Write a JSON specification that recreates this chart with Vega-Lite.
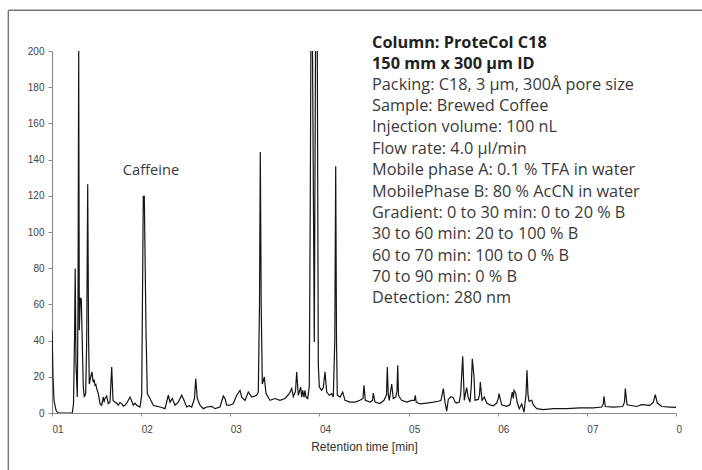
{
  "$schema": "https://vega.github.io/schema/vega-lite/v6.json",
  "width": 624,
  "height": 362,
  "autosize": "none",
  "padding": {"left": 52, "top": 51, "right": 26, "bottom": 57},
  "background": "white",
  "config": {
    "view": {"stroke": null},
    "font": "Liberation Sans",
    "axis": {
      "grid": false,
      "labelOverlap": false,
      "labelFlush": false,
      "domainColor": "#8a8a8a", "domainWidth": 1.2,
      "tickColor": "#8a8a8a",
      "labelFont": "Liberation Sans", "labelFontSize": 10, "labelColor": "#444444",
      "titleFont": "Liberation Sans", "titleFontWeight": "normal", "titleColor": "#333333"
    },
    "axisX": {"tickSize": 3, "labelPadding": 8, "labelAlign": "left", "titleFontSize": 12, "titlePadding": 7},
    "axisY": {"tickSize": 4, "labelPadding": 4}
  },
  "datasets": {
    "trace": [
      {"time": 10.0, "signal": 45.5}, {"time": 10.112, "signal": 20}, {"time": 10.224, "signal": 7}, {"time": 10.449, "signal": 1.5}, {"time": 10.673, "signal": 0},
      {"time": 12.277, "signal": 0}, {"time": 12.412, "signal": 5}, {"time": 12.524, "signal": 40}, {"time": 12.603, "signal": 79.8}, {"time": 12.692, "signal": 27},
      {"time": 12.838, "signal": 8.9}, {"time": 12.917, "signal": 60}, {"time": 12.995, "signal": 200}, {"time": 13.063, "signal": 45.7}, {"time": 13.175, "signal": 63.4},
      {"time": 13.287, "signal": 63}, {"time": 13.365, "signal": 45.7}, {"time": 13.511, "signal": 14.4}, {"time": 13.623, "signal": 8.8}, {"time": 13.78, "signal": 10.9},
      {"time": 13.893, "signal": 40}, {"time": 14.005, "signal": 126.4}, {"time": 14.106, "signal": 40}, {"time": 14.184, "signal": 16}, {"time": 14.341, "signal": 20},
      {"time": 14.487, "signal": 22.7}, {"time": 14.56, "signal": 19}, {"time": 14.633, "signal": 17}, {"time": 14.72, "signal": 18.5}, {"time": 14.824, "signal": 15.3}, {"time": 14.92, "signal": 15.8}, {"time": 15.014, "signal": 13.5}, {"time": 15.194, "signal": 10.7},
      {"time": 15.385, "signal": 5.2}, {"time": 15.575, "signal": 4.3}, {"time": 15.755, "signal": 8.8}, {"time": 15.85, "signal": 6.5}, {"time": 15.946, "signal": 8}, {"time": 16.136, "signal": 9.4},
      {"time": 16.316, "signal": 5.2}, {"time": 16.506, "signal": 6}, {"time": 16.697, "signal": 25.4}, {"time": 16.843, "signal": 7}, {"time": 17.067, "signal": 6},
      {"time": 17.25, "signal": 5.5}, {"time": 17.438, "signal": 4.3}, {"time": 17.62, "signal": 5.8}, {"time": 17.819, "signal": 5.2}, {"time": 18.0, "signal": 3.8}, {"time": 18.189, "signal": 4.3}, {"time": 18.38, "signal": 5.5}, {"time": 18.559, "signal": 7}, {"time": 18.75, "signal": 8.8},
      {"time": 18.941, "signal": 6.6}, {"time": 19.12, "signal": 4.3}, {"time": 19.3, "signal": 5.4}, {"time": 19.502, "signal": 4.3}, {"time": 19.872, "signal": 3.3}, {"time": 20.063, "signal": 10},
      {"time": 20.242, "signal": 119.7}, {"time": 20.354, "signal": 119.7}, {"time": 20.545, "signal": 45.7}, {"time": 20.691, "signal": 10.7}, {"time": 20.994, "signal": 8},
      {"time": 21.364, "signal": 4.3}, {"time": 21.7, "signal": 3.8}, {"time": 22.115, "signal": 3.3}, {"time": 22.676, "signal": 2.4}, {"time": 23.047, "signal": 9.8}, {"time": 23.237, "signal": 6},
      {"time": 23.495, "signal": 8}, {"time": 23.798, "signal": 4.3}, {"time": 24.168, "signal": 6}, {"time": 24.55, "signal": 9.8}, {"time": 24.808, "signal": 7},
      {"time": 25.111, "signal": 3.3}, {"time": 25.4, "signal": 4}, {"time": 25.672, "signal": 3.3}, {"time": 25.986, "signal": 8}, {"time": 26.12, "signal": 19}, {"time": 26.3, "signal": 8},
      {"time": 26.603, "signal": 4.3}, {"time": 26.973, "signal": 2.4}, {"time": 27.354, "signal": 3.3}, {"time": 27.915, "signal": 3.7}, {"time": 28.285, "signal": 2.4},
      {"time": 28.846, "signal": 3.3}, {"time": 29.216, "signal": 9.4}, {"time": 29.407, "signal": 8}, {"time": 29.598, "signal": 4.3}, {"time": 29.968, "signal": 4.3},
      {"time": 30.338, "signal": 5.2}, {"time": 30.72, "signal": 9.8}, {"time": 31.09, "signal": 12.5}, {"time": 31.281, "signal": 8.8}, {"time": 31.651, "signal": 7},
      {"time": 32.021, "signal": 11.6}, {"time": 32.402, "signal": 8.8}, {"time": 32.963, "signal": 9.8}, {"time": 33.143, "signal": 11.6}, {"time": 33.277, "signal": 60},
      {"time": 33.367, "signal": 144.2}, {"time": 33.468, "signal": 60}, {"time": 33.592, "signal": 16}, {"time": 33.816, "signal": 19.9}, {"time": 34.007, "signal": 10.7},
      {"time": 34.455, "signal": 7}, {"time": 35.016, "signal": 8}, {"time": 35.577, "signal": 7}, {"time": 36.138, "signal": 8}, {"time": 36.62, "signal": 10.7},
      {"time": 36.89, "signal": 13.6}, {"time": 37.069, "signal": 9}, {"time": 37.316, "signal": 12}, {"time": 37.45, "signal": 22.7}, {"time": 37.63, "signal": 9.8},
      {"time": 37.899, "signal": 14.4}, {"time": 38.011, "signal": 8.8}, {"time": 38.124, "signal": 12.5}, {"time": 38.269, "signal": 8.8}, {"time": 38.382, "signal": 12.5},
      {"time": 38.494, "signal": 8.8}, {"time": 38.684, "signal": 8}, {"time": 38.864, "signal": 15}, {"time": 38.976, "signal": 120}, {"time": 39.088, "signal": 260},
      {"time": 39.223, "signal": 200}, {"time": 39.425, "signal": 39.2}, {"time": 39.559, "signal": 200}, {"time": 39.672, "signal": 260}, {"time": 39.761, "signal": 200},
      {"time": 39.874, "signal": 27}, {"time": 39.986, "signal": 14.4}, {"time": 40.255, "signal": 12.5}, {"time": 40.435, "signal": 14}, {"time": 40.625, "signal": 22.7},
      {"time": 40.816, "signal": 11.6}, {"time": 41.108, "signal": 9.8}, {"time": 41.377, "signal": 10.7}, {"time": 41.556, "signal": 8.8}, {"time": 41.724, "signal": 40},
      {"time": 41.825, "signal": 136.3}, {"time": 41.915, "signal": 40}, {"time": 42.005, "signal": 9.8}, {"time": 42.308, "signal": 8.8}, {"time": 42.611, "signal": 11.6},
      {"time": 42.869, "signal": 7}, {"time": 43.43, "signal": 6}, {"time": 43.991, "signal": 6}, {"time": 44.551, "signal": 7}, {"time": 44.888, "signal": 8},
      {"time": 45.0, "signal": 15.3}, {"time": 45.146, "signal": 7}, {"time": 45.673, "signal": 6}, {"time": 45.954, "signal": 7}, {"time": 46.043, "signal": 11},
      {"time": 46.234, "signal": 6}, {"time": 46.795, "signal": 5.2}, {"time": 47.244, "signal": 7}, {"time": 47.524, "signal": 10}, {"time": 47.614, "signal": 25.4},
      {"time": 47.726, "signal": 10}, {"time": 47.838, "signal": 7}, {"time": 48.107, "signal": 16}, {"time": 48.287, "signal": 8}, {"time": 48.556, "signal": 8.8},
      {"time": 48.702, "signal": 12}, {"time": 48.781, "signal": 26.4}, {"time": 48.87, "signal": 10}, {"time": 48.96, "signal": 8.8}, {"time": 49.229, "signal": 7},
      {"time": 49.79, "signal": 6}, {"time": 50.351, "signal": 7}, {"time": 50.665, "signal": 7}, {"time": 50.755, "signal": 9.8}, {"time": 50.856, "signal": 6},
      {"time": 51.282, "signal": 5}, {"time": 52.034, "signal": 5.5}, {"time": 52.774, "signal": 6}, {"time": 53.335, "signal": 6.5}, {"time": 53.638, "signal": 7},
      {"time": 53.896, "signal": 13.5}, {"time": 54.087, "signal": 6}, {"time": 54.277, "signal": 1}, {"time": 54.457, "signal": 7.5}, {"time": 54.76, "signal": 9},
      {"time": 55.018, "signal": 8.5}, {"time": 55.209, "signal": 6}, {"time": 55.399, "signal": 5.5}, {"time": 55.691, "signal": 6}, {"time": 55.848, "signal": 10.7},
      {"time": 56.072, "signal": 31.3}, {"time": 56.252, "signal": 7}, {"time": 56.42, "signal": 12}, {"time": 56.521, "signal": 14}, {"time": 56.667, "signal": 9},
      {"time": 56.891, "signal": 6}, {"time": 57.037, "signal": 15}, {"time": 57.149, "signal": 30}, {"time": 57.34, "signal": 20}, {"time": 57.452, "signal": 7},
      {"time": 57.822, "signal": 7.5}, {"time": 57.957, "signal": 10}, {"time": 58.047, "signal": 17.1}, {"time": 58.238, "signal": 7}, {"time": 58.496, "signal": 8.8},
      {"time": 58.765, "signal": 5.5}, {"time": 59.134, "signal": 4.5}, {"time": 59.505, "signal": 4}, {"time": 59.886, "signal": 5.5}, {"time": 60.066, "signal": 8},
      {"time": 60.144, "signal": 10.7}, {"time": 60.447, "signal": 4.5}, {"time": 61.008, "signal": 3.7}, {"time": 61.378, "signal": 4.5}, {"time": 61.636, "signal": 11.6},
      {"time": 61.748, "signal": 8}, {"time": 61.827, "signal": 12.5}, {"time": 62.017, "signal": 11}, {"time": 62.197, "signal": 5.5}, {"time": 62.421, "signal": 2.4},
      {"time": 62.691, "signal": 5}, {"time": 62.949, "signal": 0.5}, {"time": 63.173, "signal": 10}, {"time": 63.286, "signal": 23.6}, {"time": 63.398, "signal": 10},
      {"time": 63.51, "signal": 6.5}, {"time": 63.813, "signal": 7}, {"time": 63.992, "signal": 4.5}, {"time": 64.374, "signal": 2.4}, {"time": 65.115, "signal": 1.9},
      {"time": 66.236, "signal": 2.4}, {"time": 67.739, "signal": 2.4}, {"time": 69.231, "signal": 2.8}, {"time": 70.723, "signal": 2.8}, {"time": 71.665, "signal": 3.3},
      {"time": 71.845, "signal": 5}, {"time": 71.923, "signal": 9.2}, {"time": 72.069, "signal": 3.6}, {"time": 72.967, "signal": 3.3}, {"time": 74.021, "signal": 3.6},
      {"time": 74.223, "signal": 6}, {"time": 74.313, "signal": 13.5}, {"time": 74.504, "signal": 4.5}, {"time": 75.592, "signal": 3.6}, {"time": 76.153, "signal": 4.6},
      {"time": 77.084, "signal": 4.2}, {"time": 77.454, "signal": 6}, {"time": 77.678, "signal": 10.2}, {"time": 77.903, "signal": 5.5}, {"time": 78.396, "signal": 3.6},
      {"time": 79.327, "signal": 3.3}, {"time": 80.0, "signal": 3.1}
    ]
  },
  "encoding": {
    "x": {
      "field": "time", "type": "quantitative",
      "scale": {"domain": [10, 80], "nice": false, "zero": false},
      "axis": {
        "values": [10, 20, 30, 40, 50, 60, 70, 80],
        "labelExpr": "datum.value == 80 ? '0' : '0' + (datum.value / 10)",
        "title": "Retention time [min]"
      }
    },
    "y": {
      "field": "signal", "type": "quantitative",
      "scale": {"domain": [0, 200], "nice": false, "zero": false},
      "axis": {
        "values": [0, 20, 40, 60, 80, 100, 120, 140, 160, 180, 200],
        "tickCount": 11,
        "title": null
      }
    }
  },
  "layer": [
    {
      "data": {"name": "trace"},
      "mark": {"type": "line", "color": "#141414", "strokeWidth": 1.2, "clip": true, "interpolate": "linear"}
    },
    {
      "data": {"values": [{"time": 5.1, "signal": 222.5, "signal2": -40}]},
      "mark": {"type": "rule", "color": "#777777", "strokeWidth": 1.4, "clip": false},
      "encoding": {
        "y2": {"field": "signal2"}
      }
    },
    {
      "data": {"values": [{"time": 5.1, "time2": 90, "signal": 222.5}]},
      "mark": {"type": "rule", "color": "#777777", "strokeWidth": 1.4, "clip": false},
      "encoding": {
        "x2": {"field": "time2"}
      }
    },
    {
      "data": {"values": [{"time": 21.11, "signal": 131.4, "label": "Caffeine"}]},
      "mark": {"type": "text", "font": "Open Sans", "fontSize": 14.7, "color": "#3a3a3a", "align": "center", "baseline": "alphabetic"},
      "encoding": {
        "text": {"field": "label"}
      }
    },
    {
      "data": {"values": [{"time": 45.9, "signal": 201.6, "label": ["Column: ProteCol C18", "150 mm x 300 µm ID"]}]},
      "mark": {"type": "text", "font": "Open Sans", "fontSize": 16.3, "fontWeight": "bold", "color": "#222222", "align": "left", "baseline": "alphabetic", "lineHeight": 21.2},
      "encoding": {
        "text": {"field": "label"}
      }
    },
    {
      "data": {"values": [{"time": 45.9, "signal": 178.6, "label": ["Packing: C18, 3 µm, 300Å pore size", "Sample: Brewed Coffee", "Injection volume: 100 nL", "Flow rate: 4.0 µl/min", "Mobile phase A: 0.1 % TFA in water", "MobilePhase B: 80 % AcCN in water", "Gradient: 0 to 30 min: 0 to 20 % B", "30 to 60 min: 20 to 100 % B", "60 to 70 min: 100 to 0 % B", "70 to 90 min: 0 % B", "Detection: 280 nm"]}]},
      "mark": {"type": "text", "font": "Open Sans", "fontSize": 16.3, "color": "#3a3a3a", "align": "left", "baseline": "alphabetic", "lineHeight": 21.37},
      "encoding": {
        "text": {"field": "label"}
      }
    }
  ]
}
